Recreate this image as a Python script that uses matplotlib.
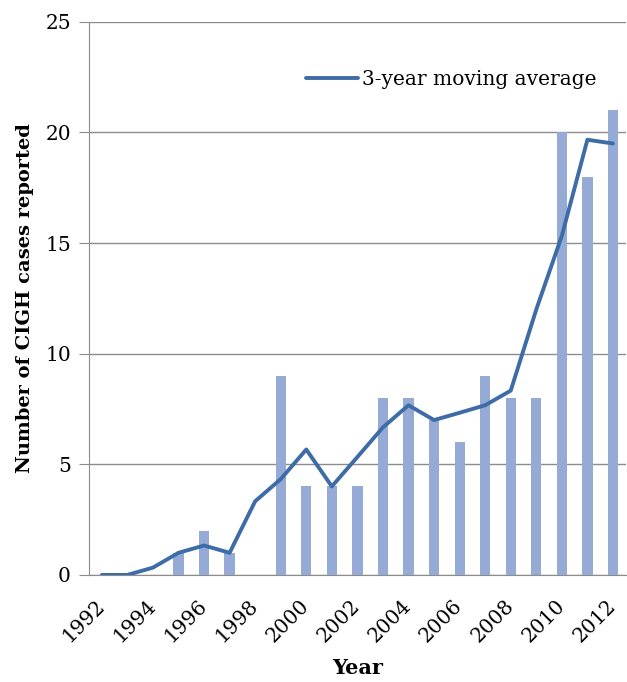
import numpy as np
import matplotlib.pyplot as plt
import matplotlib.transforms as mtrans

years = list(range(1992, 2013))
cases = [0, 0, 0, 1, 2, 1, 0, 9, 4, 4, 4, 8, 8, 7, 6, 9, 8, 8, 20, 18, 21]
moving_avg = [0, 0, 0.33, 1, 1.33, 1, 3.33, 4.33, 5.67, 4, 5.33, 6.67, 7.67,
              7, 7.33, 7.67, 8.33, 12, 15.33, 19.67, 19.5]

plt.rcParams['font.family'] = ['DejaVu Serif']

fig = plt.figure(figsize=(6.27, 6.82), dpi=100)
ax = fig.add_axes([0.142, 0.157, 0.856, 0.811])

x = np.arange(len(years))
ax.bar(x, cases, width=0.4, color='#95abd5', zorder=2)
ax.plot(x, moving_avg, color='#3e6ca6', lw=2.8, solid_capstyle='round',
        label='3-year moving average', zorder=3)

ax.set_xlim(-0.5, len(years) - 0.5)
ax.set_ylim(0, 25)
ax.set_yticks([0, 5, 10, 15, 20, 25])
ax.yaxis.grid(True, color='#8c8c8c', lw=1)
ax.set_axisbelow(True)

ax.set_xticks(x[::2])
ax.set_xticklabels([str(y) for y in years[::2]], rotation=45, ha='right',
                   va='center', rotation_mode='anchor', fontsize=14.5)
# nudge the rotated labels a little to the left
offset = mtrans.ScaledTranslation(-4 / 100, 0, fig.dpi_scale_trans)
for lab in ax.get_xticklabels():
    lab.set_transform(lab.get_transform() + offset)
ax.tick_params(axis='x', length=0, pad=20)
ax.tick_params(axis='y', length=7, color='#8c8c8c', labelsize=14.5, pad=6)

for s in ['top', 'right']:
    ax.spines[s].set_visible(False)
ax.spines['left'].set_color('#8c8c8c')
ax.spines['bottom'].set_color('#8c8c8c')

ax.set_xlabel('Year', fontsize=15, fontweight='bold', labelpad=9)
ax.set_ylabel('Number of CIGH cases reported', fontsize=14, fontweight='bold', labelpad=8)

ax.legend(loc='upper right', bbox_to_anchor=(0.98, 0.945), frameon=False,
          fontsize=14.5, handlelength=2.6, handletextpad=0.2)

plt.savefig('out.png', dpi=100)
